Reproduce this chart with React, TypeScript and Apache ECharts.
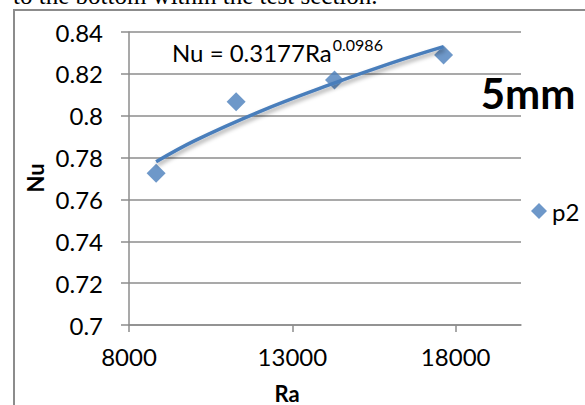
import React, { useEffect, useRef } from "react";
import * as echarts from "echarts";

// Measured data points (Ra, Nu)
const raValues = [8830, 11280, 14290, 17630];
const nuValues = [0.7725, 0.8067, 0.8171, 0.829];

// Power-law trendline samples
const trendRa = [8830, 10000, 12000, 14000, 16000, 17630];
const trendNu = [0.778, 0.788, 0.802, 0.814, 0.825, 0.833];

const xTicks = [8000, 13000, 18000];
const seriesName = "p2";
const equationMain = "Nu = 0.3177Ra";
const equationExp = "0.0986";
const panelLabel = "5mm";
const xTitle = "Ra";
const yTitle = "Nu";
const captionText = "to the bottom within the test section.";

const FONT = "Lato, 'Open Sans', sans-serif";

export default function App() {
  const ref = useRef<HTMLDivElement>(null);

  useEffect(() => {
    if (!ref.current) return;
    const chart = echarts.init(ref.current, undefined, { renderer: "svg" });
    const scatterData = raValues.map((r, i) => [r, nuValues[i]]);
    const trendData = trendRa.map((r, i) => [r, trendNu[i]]);

    chart.setOption({
      animation: false,
      backgroundColor: "#ffffff",
      textStyle: { fontFamily: FONT },
      grid: { left: 129, right: 64, top: 32, bottom: 80, containLabel: false },
      legend: {
        data: [{ name: seriesName, icon: "diamond" }],
        left: 526,
        top: 194,
        itemWidth: 16,
        itemHeight: 16,
        itemGap: 5,
        textStyle: { fontSize: 24, fontFamily: FONT, color: "#000" },
      },
      xAxis: {
        type: "value",
        min: 8000,
        max: 20000,
        splitLine: { show: false },
        axisLine: { show: true, lineStyle: { color: "#8c8c8c", width: 1.5 } },
        axisTick: {
          show: true,
          length: 7,
          customValues: xTicks,
          lineStyle: { color: "#8c8c8c", width: 1.5 },
        },
        axisLabel: {
          customValues: xTicks,
          formatter: (v: number) => String(v),
          fontSize: 24,
          fontFamily: FONT,
          color: "#000",
          margin: 19,
        },
      },
      yAxis: {
        type: "value",
        min: 0.7,
        max: 0.84,
        interval: 0.02,
        axisLine: { show: true, lineStyle: { color: "#8c8c8c", width: 1.5 } },
        axisTick: { show: true, length: 8, lineStyle: { color: "#8c8c8c", width: 1.5 } },
        splitLine: { show: true, lineStyle: { color: "#8c8c8c", width: 1.5 } },
        axisLabel: {
          fontSize: 24,
          fontFamily: FONT,
          color: "#000",
          margin: 26,
        },
      },
      series: [
        {
          name: seriesName,
          type: "scatter",
          symbol: "diamond",
          symbolSize: 19,
          itemStyle: { color: "#4a7ebb" },
          data: scatterData,
          z: 2,
        },
        {
          name: "trend",
          type: "line",
          data: trendData,
          smooth: 0.4,
          showSymbol: false,
          symbol: "none",
          lineStyle: {
            color: "#4a7ebb",
            width: 3.5,
            shadowColor: "rgba(0,0,0,0.35)",
            shadowBlur: 4,
            shadowOffsetX: 1,
            shadowOffsetY: 3,
          },
          z: 3,
        },
      ],
      graphic: [
        {
          type: "rect",
          shape: { x: 14, y: 10, width: 700, height: 500 },
          style: { fill: "none", stroke: "#8c8c8c", lineWidth: 2 },
          silent: true,
        },
        {
          type: "text",
          x: 13,
          y: -5,
          style: {
            text: captionText,
            font: "25px 'Liberation Serif', serif",
            fill: "#000",
            verticalAlign: "middle",
            align: "left",
          },
        },
        {
          type: "text",
          x: 172,
          y: 36,
          style: {
            text: `{a|${equationMain}}{b|${equationExp}}`,
            align: "left",
            verticalAlign: "top",
            rich: {
              a: {
                fontSize: 24,
                fontFamily: FONT,
                color: "#000",
                lineHeight: 28,
                verticalAlign: "bottom",
              },
              b: {
                fontSize: 16,
                fontFamily: FONT,
                color: "#000",
                lineHeight: 28,
                verticalAlign: "top",
                padding: [0, 0, 0, 1],
              },
            },
          },
        },
        {
          type: "text",
          x: 528,
          y: 93,
          style: {
            text: panelLabel,
            font: `bold 42px ${FONT}`,
            fill: "#000",
            verticalAlign: "middle",
            align: "center",
          },
        },
        {
          type: "text",
          x: 35,
          y: 178,
          rotation: Math.PI / 2,
          style: {
            text: yTitle,
            font: `bold 22px ${FONT}`,
            fill: "#000",
            verticalAlign: "middle",
            align: "center",
          },
        },
        {
          type: "text",
          x: 287,
          y: 393,
          style: {
            text: xTitle,
            font: `bold 22px ${FONT}`,
            fill: "#000",
            verticalAlign: "middle",
            align: "center",
          },
        },
      ],
    });
    return () => chart.dispose();
  }, []);

  return (
    <div
      ref={ref}
      style={{ position: "fixed", left: 0, top: 0, width: 585, height: 405 }}
    />
  );
}
